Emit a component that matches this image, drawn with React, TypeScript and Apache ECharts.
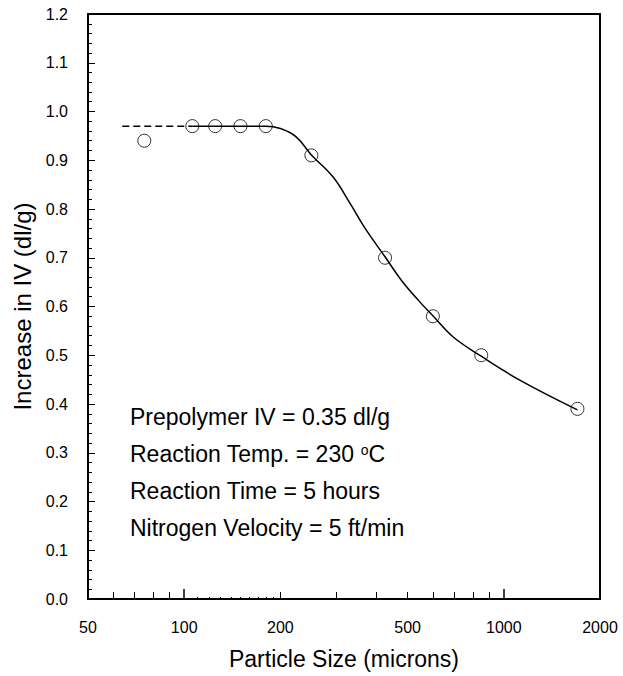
import React, { useEffect, useRef } from "react";
import * as echarts from "echarts";

// Measured points (particle size in microns, increase in IV in dl/g)
const sizes = [75, 106, 125, 150, 180, 250, 425, 600, 850, 1700];
const ivIncrease = [0.94, 0.97, 0.97, 0.97, 0.97, 0.91, 0.7, 0.58, 0.5, 0.39];

// Fitted curve
const curveSizes = [106, 180, 200, 224, 250, 292, 330, 371, 425, 478, 545, 600, 693, 850, 1122, 1700];
const curveValues = [0.97, 0.97, 0.965, 0.948, 0.911, 0.866, 0.812, 0.757, 0.702, 0.654, 0.61, 0.581, 0.538, 0.498, 0.449, 0.388];

// Dashed extrapolation
const dashSizes = [64, 106];
const dashValues = [0.97, 0.97];

// Axis ticks / labels
const xLabelValues = [50, 100, 200, 500, 1000, 2000];
const xMajorTicks = [100, 1000];
const xMinorTicks = [60, 70, 80, 90, 200, 300, 400, 500, 600, 700, 800, 900];
const xTinyTicks = [110, 120, 130, 140, 150, 160, 170, 180, 190];

const annotationLines = [
  "Prepolymer IV = 0.35 dl/g",
  "Reaction Temp. = 230 {sup|o}C",
  "Reaction Time = 5 hours",
  "Nitrogen Velocity = 5 ft/min",
];

const FONT = '"Liberation Sans", Arial, Helvetica, sans-serif';

export default function App() {
  const ref = useRef<HTMLDivElement>(null);
  useEffect(() => {
    if (!ref.current) return;
    const chart = echarts.init(ref.current, null, { renderer: "svg" });
    const baseX = {
      type: "log" as const,
      logBase: 10,
      min: 50,
      max: 2000,
      gridIndex: 0,
      position: "bottom" as const,
      splitLine: { show: false },
      axisLine: { show: false },
    };
    const option: any = {
      animation: false,
      backgroundColor: "#fff",
      grid: {
        left: 88,
        right: 23,
        top: 14,
        bottom: 77,
        show: true,
        borderColor: "#000",
        borderWidth: 2,
        backgroundColor: "transparent",
      },
      xAxis: [
        {
          ...baseX,
          name: "Particle Size (microns)",
          nameLocation: "middle",
          nameGap: 48,
          nameTextStyle: { fontSize: 23, color: "#000", fontFamily: FONT },
          axisTick: {
            show: true,
            inside: true,
            length: 10,
            customValues: xMajorTicks,
            lineStyle: { color: "#000", width: 1.5 },
          },
          axisLabel: {
            show: true,
            customValues: xLabelValues,
            margin: 20,
            fontSize: 16,
            color: "#000",
            fontFamily: FONT,
            showMinLabel: true,
            showMaxLabel: true,
            formatter: (v: number) => String(Math.round(v)),
          },
        },
        {
          ...baseX,
          axisTick: {
            show: true,
            inside: true,
            length: 7,
            customValues: xMinorTicks,
            lineStyle: { color: "#000", width: 1 },
          },
          axisLabel: { show: false },
        },
        {
          ...baseX,
          axisTick: {
            show: true,
            inside: true,
            length: 2,
            customValues: xTinyTicks,
            lineStyle: { color: "#000", width: 1 },
          },
          axisLabel: { show: false },
        },
      ],
      yAxis: {
        type: "value",
        min: 0,
        max: 1.2,
        interval: 0.1,
        name: "Increase in IV (dl/g)",
        nameLocation: "middle",
        nameGap: 54,
        nameTextStyle: { fontSize: 24, color: "#000", fontFamily: FONT },
        splitLine: { show: false },
        axisLine: { show: false },
        axisTick: { show: true, inside: true, length: 7, lineStyle: { color: "#000", width: 1 } },
        minorTick: { show: true, splitNumber: 5, length: 4, lineStyle: { color: "#000", width: 1 } },
        axisLabel: {
          margin: 20,
          fontSize: 16,
          color: "#000",
          fontFamily: FONT,
          formatter: (v: number) => v.toFixed(1),
        },
      },
      series: [
        {
          type: "line",
          data: dashSizes.map((s, i) => [s, dashValues[i]]),
          showSymbol: false,
          lineStyle: { color: "#000", width: 1.5, type: [7, 4] },
          z: 2,
        },
        {
          type: "line",
          data: curveSizes.map((s, i) => [s, curveValues[i]]),
          showSymbol: false,
          smooth: 0.4,
          lineStyle: { color: "#000", width: 1.5 },
          z: 2,
        },
        {
          type: "scatter",
          data: sizes.map((s, i) => [s, ivIncrease[i]]),
          symbol: "circle",
          symbolSize: 13,
          itemStyle: { color: "rgba(0,0,0,0)", borderColor: "#000", borderWidth: 1 },
          z: 3,
        },
      ],
      graphic: annotationLines.map((t, i) => ({
        type: "text",
        x: 130,
        y: 417 + i * 37,
        z: 10,
        style: {
          text: t,
          fill: "#000",
          fontSize: 23,
          fontFamily: FONT,
          verticalAlign: "middle",
          rich: {
            sup: { fontSize: 14, fontFamily: FONT, fill: "#000", verticalAlign: "top", padding: [0, 0, 8, 0] },
          },
        },
      })),
    };
    chart.setOption(option);
    return () => chart.dispose();
  }, []);
  return (
    <div
      ref={ref}
      style={{ position: "fixed", left: 0, top: 0, width: 623, height: 676, background: "#fff" }}
    />
  );
}
